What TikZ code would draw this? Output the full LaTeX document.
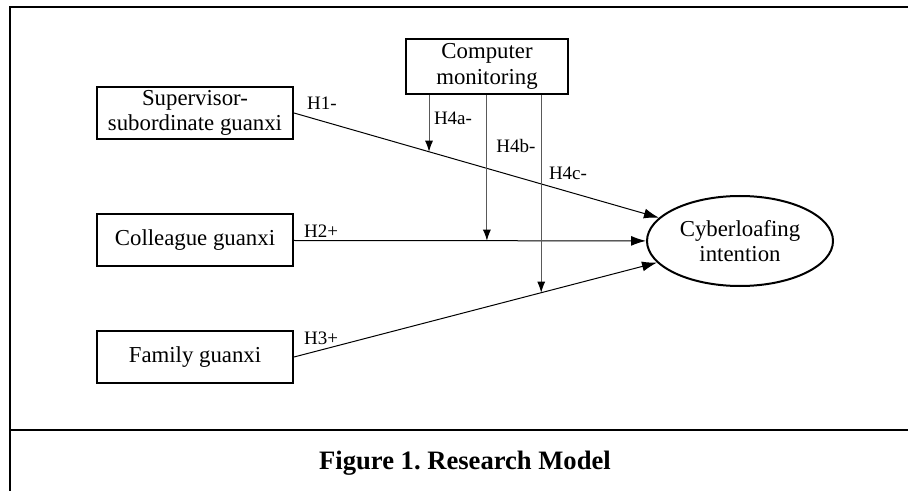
\documentclass[tikz,border=0pt]{standalone}
\usepackage{fontspec}
\setmainfont{Liberation Serif}
\usetikzlibrary{arrows.meta,shapes.geometric}

\begin{document}
\begin{tikzpicture}
	[x=0.5pt, y=-0.5pt, line width=0.5pt,
	box/.style={draw, line width=1pt, align=center, minimum width=98pt, minimum height=26pt, inner sep=0pt, font=\fontsize{11.4}{12.6}\selectfont},
	hyp/.style={font=\fontsize{9.5}{11}\selectfont, inner sep=0pt},
	main/.style={-{Latex[length=7.5pt,width=5pt]}},
	mod/.style={draw=black!65, -{Latex[length=5.5pt,width=4pt,color=black]}}]
	\useasboundingbox (0,0) rectangle (908,491);
	\draw[line width=1.25pt] (908,7) -- (10,7) -- (10,491);
	\draw[line width=1.25pt] (10,430) -- (908,430);
	\node[box] (sup) at (195,113) {Supervisor-\\subordinate guanxi};
	\node[box] (col) at (195,240.5) {Colleague guanxi};
	\node[box] (fam) at (195,357) {Family guanxi};
	\node[box, minimum width=81pt, minimum height=27.5pt] (cm) at (487,66.5) {Computer\\monitoring};
	\node[ellipse, draw, line width=1pt, minimum width=93pt, minimum height=45pt, inner sep=0pt, align=center, font=\fontsize{11.4}{12.6}\selectfont] (cyb) at (740,241) {Cyberloafing\\intention};
	\draw[main] (sup.east) -- coordinate[pos=0.37] (a) (cyb);
	\draw[main] (col.east) -- coordinate[pos=0.548] (b) (cyb);
	\draw[main] (fam.east) -- coordinate[pos=0.681] (c) (cyb);
	\draw[mod] (cm.south -| a) -- (a);
	\draw[mod] (cm.south -| b) -- (b);
	\draw[mod] (cm.south -| c) -- (c);
	\node[hyp] (h1) at (322,103) {H1-};
	\node[hyp] (h2) at (321,231) {H2+};
	\node[hyp] (h3) at (321,338) {H3+};
	\node[hyp] (h4a) at (453,118) {H4a-};
	\node[hyp] (h4b) at (516,146) {H4b-};
	\node[hyp] (h4c) at (568,173) {H4c-};
	\node[font=\fontsize{13.3}{15}\selectfont\bfseries] (cap) at (465,463) {Figure 1.\ Research Model};
\end{tikzpicture}
\end{document}
